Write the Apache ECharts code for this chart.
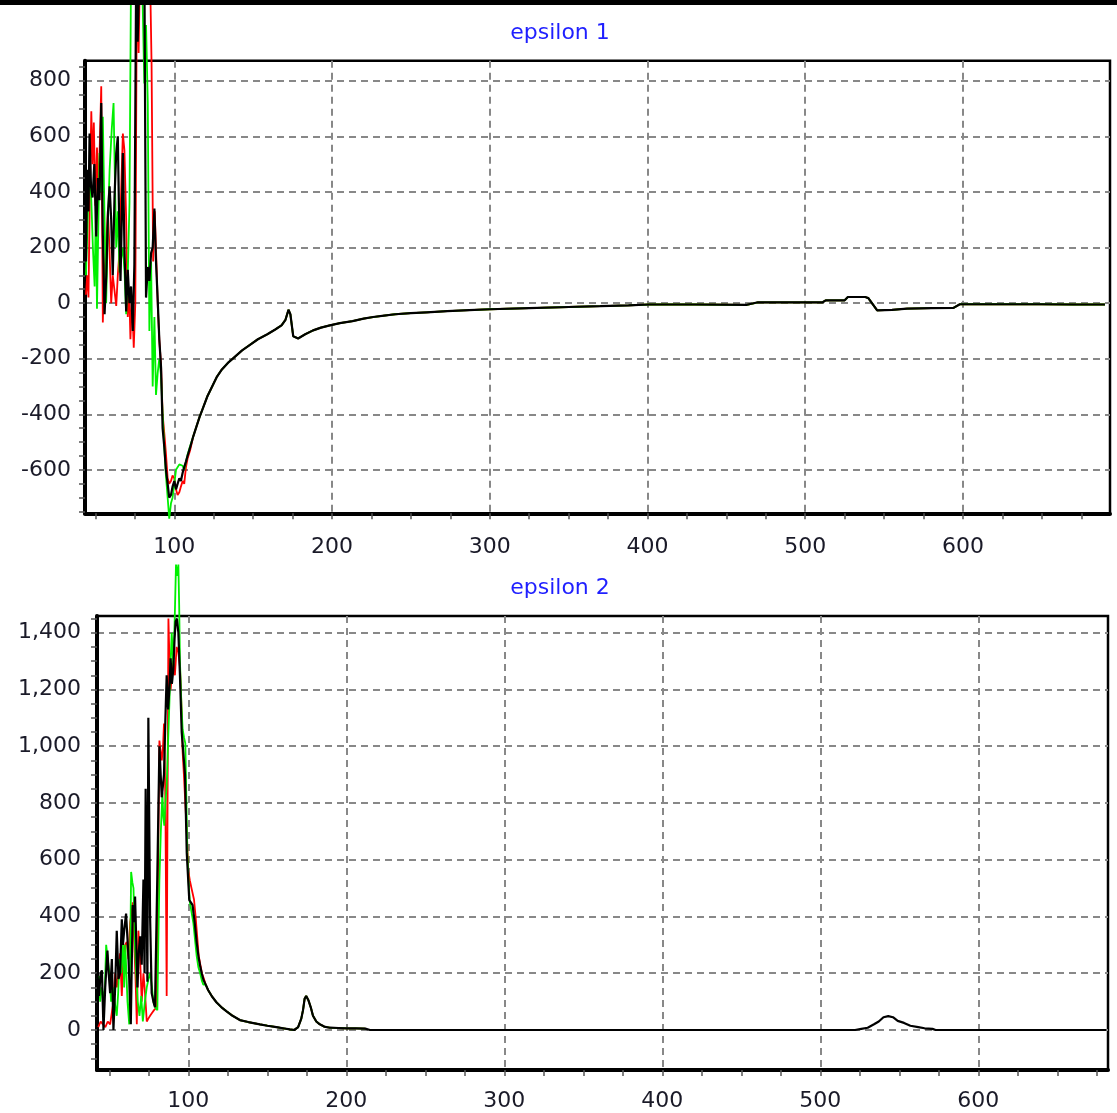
<!DOCTYPE html>
<html>
<head>
<meta charset="utf-8">
<script src="https://cdn.jsdelivr.net/npm/echarts@6/dist/echarts.min.js"></script>
<style>
html,body{margin:0;padding:0;background:#fff;}
#chart{width:1117px;height:1113px;}
</style>
</head>
<body>
<div id="chart"></div>
<script>
// ---------------- DATA ----------------
const titles = ['epsilon 1', 'epsilon 2'];

// axis ranges
const eps1XRange = [43.4, 693.2];
const eps1YRange = [-756, 872];
const eps2XRange = [42.2, 682.1];
const eps2YRange = [-141, 1459];

// epsilon 1 : noisy low-frequency part, per series [x, y]
const eps1Black = [[44.0,150],[44.8,480],[45.6,330],[46.3,610],[47.2,420],[48.2,380],[49.3,500],[50.5,240],[51.6,450],[52.6,370],[53.7,720],[54.7,250],[55.8,-40],[56.9,100],[58.0,330],[59.0,420],[60.0,300],[61.0,100],[62.1,380],[63.2,540],[64.2,600],[65.1,280],[65.9,80],[66.7,300],[67.4,540],[68.4,200],[69.5,-30],[70.5,120],[71.6,0],[72.6,60],[73.7,-100],[74.7,140],[75.8,1150],[76.8,940],[77.9,1200],[79.0,1300],[80.0,1250],[81.1,1150],[82.1,20],[83.2,130],[84.2,80],[85.3,180],[86.3,200],[87.4,340],[88.4,150],[89.5,10],[90.5,-130],[91.6,-230],[92.6,-450],[93.7,-520],[94.7,-600],[95.8,-650],[96.8,-700],[97.9,-690],[98.9,-660],[100.0,-640],[101.1,-670],[102.1,-650],[103.2,-630],[104.2,-640],[105.3,-610],[106.3,-590],[107.4,-570],[108.4,-550],[110.0,-520]];
const eps1Red = [[44.0,30],[44.8,100],[45.6,20],[46.5,400],[47.4,690],[48.2,500],[49.0,650],[50.0,350],[51.0,560],[51.9,380],[52.9,600],[53.7,780],[54.7,-70],[55.6,100],[56.8,200],[57.9,330],[58.9,200],[60.0,0],[61.0,100],[62.0,50],[63.2,-10],[64.2,100],[65.3,190],[66.3,400],[67.4,610],[68.4,550],[69.5,300],[70.5,-50],[71.4,50],[72.2,-130],[73.2,20],[74.3,-160],[75.3,0],[76.3,1200],[77.4,900],[78.5,1300],[79.6,1250],[80.6,1100],[81.6,1200],[82.6,1300],[83.6,1250],[84.6,1200],[85.6,860],[86.6,150],[87.6,330],[88.6,160],[89.6,-20],[90.6,-140],[91.6,-220],[92.6,-400],[93.7,-470],[94.7,-540],[95.8,-630],[96.8,-650],[97.9,-640],[98.9,-620],[100.0,-630],[101.1,-670],[102.1,-690],[103.2,-680],[104.2,-660],[105.3,-640],[106.3,-650],[107.4,-590],[108.4,-560],[110.0,-530]];
const eps1Green = [[44.0,100],[44.8,250],[46.0,480],[47.4,370],[48.4,200],[49.5,60],[50.3,350],[51.0,-20],[52.6,540],[53.7,400],[54.7,670],[55.8,300],[56.8,0],[58.0,300],[59.0,480],[60.4,630],[61.5,720],[62.5,400],[63.2,200],[64.2,330],[65.3,110],[66.3,160],[67.4,200],[68.4,120],[69.5,-40],[70.5,100],[71.6,360],[72.6,1200],[73.7,1300],[75.0,1250],[76.5,1200],[78.0,1150],[79.5,1200],[81.0,790],[82.1,1000],[83.2,720],[84.2,-100],[85.3,150],[86.3,-300],[87.4,-50],[88.4,-330],[89.5,-250],[90.5,-200],[91.6,-260],[92.6,-400],[93.7,-520],[94.7,-620],[95.8,-700],[96.8,-775],[97.9,-720],[98.9,-700],[100.0,-650],[101.1,-600],[102.1,-590],[103.2,-580],[104.2,-580],[105.3,-585],[106.3,-600],[107.4,-570],[108.4,-545],[110.0,-515]];
// epsilon 1 : smooth part shared by the three series
const eps1Tail = [[112,-480],[114,-445],[116,-410],[118,-380],[121,-335],[124,-300],[127,-265],[130,-240],[134,-215],[138,-195],[143,-170],[148,-150],[153,-130],[159,-112],[164,-95],[168,-80],[170.5,-60],[172.4,-24],[173.6,-40],[175.4,-119],[178.5,-127],[183,-112],[188,-98],[193,-88],[198.6,-80],[205,-72],[213,-65],[220,-56],[226,-50],[233,-45],[240,-40],[250,-36],[260,-33],[273,-29],[287,-25],[300,-22],[325,-18],[350,-14],[370,-11],[388,-8],[401,-5],[430,-5],[463,-6],[470,3],[495,3],[511,3],[513,10],[525,10],[527,22],[538,22],[540,18],[545.6,-26],[555,-24],[564.5,-20],[580,-18],[594,-17],[598,-4],[620,-4],[650,-4],[670,-5],[690,-5]];

// epsilon 2 : noisy low-frequency part
const eps2Black = [[42.5,200],[43.5,120],[44.5,200],[45.3,210],[46.3,0],[47.4,150],[48.8,280],[49.6,200],[50.5,130],[51.6,250],[52.6,0],[53.7,150],[54.7,350],[55.8,180],[56.8,200],[57.9,390],[58.6,300],[59.4,350],[60.6,410],[61.4,330],[62.1,260],[63.6,20],[64.8,440],[65.6,380],[66.3,470],[67.8,150],[68.7,280],[69.5,330],[70.5,230],[71.6,530],[72.3,200],[73.0,850],[74.1,170],[74.7,1100],[75.8,400],[76.8,130],[77.9,100],[78.9,80],[80.4,550],[81.7,1000],[82.5,900],[83.2,820],[84.6,900],[85.5,1100],[86.3,1250],[87.2,1130],[88.0,1200],[88.8,1310],[89.6,1220],[90.5,1270],[91.3,1380],[92.0,1440],[92.8,1450],[93.7,1400],[94.7,1250],[95.8,1050],[96.8,980],[97.9,900],[99.0,625],[100.6,458],[101.6,450],[102.7,440],[104.0,380],[105.3,308],[106.4,260],[107.4,228],[108.5,200],[109.5,178]];
const eps2Red = [[43.0,10],[44.5,30],[46.0,20],[47.5,10],[49.0,30],[50.5,20],[51.6,15],[52.6,100],[53.7,200],[54.7,150],[55.8,200],[56.8,270],[57.9,120],[58.9,260],[60.0,300],[61.0,310],[62.1,250],[63.2,380],[64.2,420],[64.8,450],[65.8,300],[66.5,200],[67.4,20],[68.4,350],[69.5,250],[70.5,100],[71.6,200],[72.6,130],[73.7,30],[74.7,40],[75.8,50],[77.0,60],[78.3,70],[79.2,75],[80.0,80],[80.9,600],[81.7,1020],[82.5,980],[83.2,950],[84.0,1000],[84.6,1080],[85.5,800],[86.3,120],[87.4,1450],[88.1,1300],[88.8,1200],[89.6,1250],[90.5,1300],[91.5,1250],[92.6,1350],[93.7,1330],[94.7,1280],[95.6,1150],[96.4,980],[97.2,900],[98.1,800],[99.0,700],[100.0,560],[101.0,526],[102.0,500],[103.6,460],[104.6,400],[105.6,330],[106.6,260],[107.6,230],[108.6,200],[109.6,185]];
const eps2Green = [[42.5,180],[43.4,190],[44.2,100],[45.2,150],[46.3,110],[47.2,150],[48.0,300],[49.0,250],[50.1,200],[51.1,100],[52.2,150],[53.4,100],[54.7,50],[55.6,130],[56.4,250],[57.5,200],[58.5,330],[59.4,150],[60.1,300],[61.5,100],[62.6,20],[63.4,350],[63.8,557],[64.6,520],[65.3,500],[66.2,300],[67.0,200],[68.0,100],[69.1,50],[70.2,120],[71.2,30],[72.5,100],[73.7,150],[74.8,180],[75.8,200],[77.0,150],[77.9,100],[79.0,80],[80.4,70],[81.0,300],[81.7,530],[82.6,700],[83.6,837],[84.2,750],[84.8,720],[85.5,800],[86.3,860],[87.1,1000],[88.0,1150],[88.8,1300],[89.5,1400],[90.5,1280],[91.4,1450],[92.2,1640],[92.9,1600],[93.7,1640],[94.2,1500],[94.7,1300],[95.6,1150],[96.4,1060],[97.3,1030],[98.1,1010],[99.4,620],[100.2,520],[101.0,450],[102.2,410],[103.2,377],[104.2,320],[105.3,260],[106.4,220],[107.5,200],[108.5,175],[109.5,160]];
// epsilon 2 : smooth part shared by the three series (up to ~212)
const eps2Tail = [[111,160],[112.6,140],[115,118],[117.9,97],[121,80],[124.2,66],[128,50],[132.6,35],[138,28],[145.3,20],[150,15],[155.8,10],[160,6],[164.2,2],[167,0],[169.5,10],[171.5,40],[172.6,70],[173.6,110],[174.6,120],[176,105],[177.5,80],[178.9,50],[181,30],[183.2,20],[186,12],[189.5,8],[195,7],[200,6],[206,6],[212,5]];
// epsilon 2 : black only beyond ~212
const eps2BlackFar = [[215,0],[300,0],[400,0],[500,0],[522,0],[526,4],[530,8],[534,20],[537,30],[540,45],[543,49],[546,45],[549,32],[553,25],[557,15],[562,10],[566,6],[571,4],[573,0],[600,0],[681,0]];

// tick steps of the small ticks
const xMinorStep = 25;
const yMinorStep = 50;

// ---------------- LAYOUT / STYLE ----------------
const R1 = {left: 85, top: 60.7, width: 1025, height: 452.6};
const R2 = {left: 97, top: 616, width: 1011, height: 454};
const LABEL_COLOR = '#1a1a28';
const FONT = 'DejaVu Sans';
const fmt = v => Number(v).toLocaleString('en-US');

function mainAxes(gi, R, xr, yr, xMargin, yMargin) {
  const split = {show: true, showMinLine: false, showMaxLine: false,
                 lineStyle: {type: [7, 5], color: '#888888', width: 2}};
  return {
    grid: {left: R.left, top: R.top, width: R.width, height: R.height, show: true,
           borderColor: '#000', borderWidth: 2.5, backgroundColor: 'transparent',
           containLabel: false, outerBoundsMode: 'none'},
    x: {type: 'value', gridIndex: gi, min: xr[0], max: xr[1], splitNumber: 5,
        axisLine: {show: true, onZero: false, lineStyle: {color: '#000', width: 4}},
        axisTick: {show: false},
        axisLabel: {showMinLabel: false, showMaxLabel: false, margin: xMargin, fontSize: 22,
                    fontFamily: FONT, color: LABEL_COLOR, formatter: fmt},
        splitLine: split},
    y: {type: 'value', gridIndex: gi, min: yr[0], max: yr[1], splitNumber: 8,
        axisLine: {show: true, onZero: false, lineStyle: {color: '#000', width: 4}},
        axisTick: {show: false},
        axisLabel: {showMinLabel: false, showMaxLabel: false, margin: yMargin, fontSize: 22,
                    fontFamily: FONT, color: LABEL_COLOR, formatter: fmt},
        splitLine: split}
  };
}

// tick-only axes whose min is a multiple of the tick step, laid on the same pixel scale
function tickAxes(gi, R, xr, yr) {
  const sx = R.width / (xr[1] - xr[0]);
  const sy = R.height / (yr[1] - yr[0]);
  const gx0 = Math.ceil(xr[0] / xMinorStep) * xMinorStep;
  const gx1 = Math.floor(xr[1] / xMinorStep) * xMinorStep;
  const gy0 = Math.ceil(yr[0] / yMinorStep) * yMinorStep;
  const gy1 = Math.floor(yr[1] / yMinorStep) * yMinorStep;
  const left = R.left + (gx0 - xr[0]) * sx;
  const width = (gx1 - gx0) * sx;
  const top = R.top + (yr[1] - gy1) * sy;
  const height = (gy1 - gy0) * sy;
  const tick = {show: true, inside: false, length: 6, lineStyle: {color: '#555', width: 1.5}};
  return {
    grid: {left, top, width, height, show: false, containLabel: false, outerBoundsMode: 'none'},
    x: {type: 'value', gridIndex: gi, min: gx0, max: gx1, interval: xMinorStep,
        position: 'bottom', offset: (R.top + R.height) - (top + height),
        axisLine: {show: false, onZero: false}, axisTick: tick,
        axisLabel: {show: false}, splitLine: {show: false}},
    y: {type: 'value', gridIndex: gi, min: gy0, max: gy1, interval: yMinorStep,
        position: 'left', offset: left - R.left,
        axisLine: {show: false, onZero: false}, axisTick: tick,
        axisLabel: {show: false}, splitLine: {show: false}}
  };
}

const m1 = mainAxes(0, R1, eps1XRange, eps1YRange, 23, 14);
const m2 = mainAxes(1, R2, eps2XRange, eps2YRange, 20, 16);
const t1 = tickAxes(2, R1, eps1XRange, eps1YRange);
const t2 = tickAxes(3, R2, eps2XRange, eps2YRange);

function line(ai, data, color, width, z) {
  return {type: 'line', xAxisIndex: ai, yAxisIndex: ai, data: data,
          showSymbol: false, symbol: 'none', clip: false, animation: false,
          lineStyle: {color: color, width: width}, z: z};
}
const RED = '#ff0000', GREEN = '#00f000', BLACK = '#000000';

const option = {
  animation: false,
  backgroundColor: '#ffffff',
  textStyle: {fontFamily: FONT},
  grid: [m1.grid, m2.grid, t1.grid, t2.grid],
  xAxis: [m1.x, m2.x, t1.x, t2.x],
  yAxis: [m1.y, m2.y, t1.y, t2.y],
  series: [
    line(0, eps1Red.concat(eps1Tail), RED, 1.8, 2),
    line(0, eps1Green.concat(eps1Tail), GREEN, 1.8, 3),
    line(0, eps1Black.concat(eps1Tail), BLACK, 2.2, 4),
    line(1, eps2Red.concat(eps2Tail), RED, 1.8, 2),
    line(1, eps2Green.concat(eps2Tail), GREEN, 1.8, 3),
    line(1, eps2Black.concat(eps2Tail, eps2BlackFar), BLACK, 2.2, 4)
  ],
  graphic: [
    {type: 'text', x: 560, y: 33, z: 50,
     style: {text: titles[0], fill: '#1f1fff', font: '22px "DejaVu Sans"', align: 'center', verticalAlign: 'middle'}},
    {type: 'text', x: 560, y: 588, z: 50,
     style: {text: titles[1], fill: '#1f1fff', font: '22px "DejaVu Sans"', align: 'center', verticalAlign: 'middle'}},
    {type: 'rect', z: 100, shape: {x: 0, y: 0, width: 1117, height: 5}, style: {fill: '#000'}}
  ]
};

const chart = echarts.init(document.getElementById('chart'), null, {renderer: 'canvas'});
chart.setOption(option);
</script>
</body>
</html>
